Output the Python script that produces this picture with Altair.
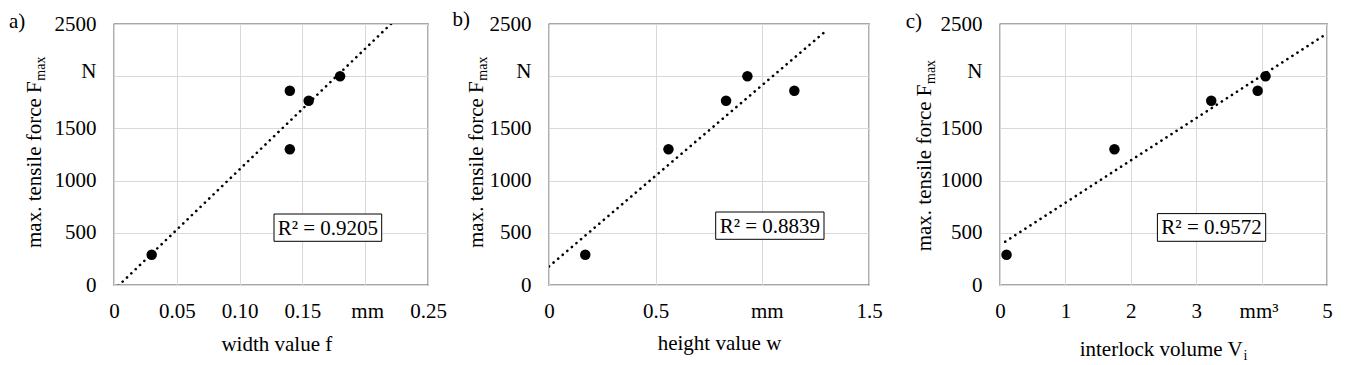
import altair as alt
import pandas as pd

FONT = "'Liberation Serif', 'Times New Roman', 'DejaVu Serif', serif"

# ---------------- data ----------------
force = [290, 1300, 1765, 1860, 2000]            # N
width_f = [0.03, 0.14, 0.155, 0.14, 0.18]         # mm
height_w = [0.17, 0.56, 0.83, 1.15, 0.93]         # mm
volume_v = [0.10, 1.75, 3.23, 3.94, 4.06]         # mm^3

y_ticks = [0, 500, 1000, 1500, 2000, 2500]
y_labels = ["0", "500", "1000", "1500", "N", "2500"]

xa_ticks = [0, 0.05, 0.10, 0.15, 0.20, 0.25]
xa_labels = ["0", "0.05", "0.10", "0.15", "mm", "0.25"]
xb_ticks = [0, 0.5, 1.0, 1.5]
xb_labels = ["0", "0.5", "mm", "1.5"]
xc_ticks = [0, 1, 2, 3, 4, 5]
xc_labels = ["0", "1", "2", "3", "mm³", "5"]

r2_labels = ["R² = 0.9205", "R² = 0.8839", "R² = 0.9572"]
panel_labels = ["a)", "b)", "c)"]
x_titles = [("width value f", ""), ("height value w", ""), ("interlock volume V", "i")]
y_title = ("max. tensile force F", "max")

# ---------------- styling / layout ----------------
FS = 21
SUB = 14
GRID = "#d9d9d9"
BORDER = "#505050"

# Times / Liberation Serif advance widths (em)
W = {'m': .778, 'a': .444, 'x': .5, '.': .25, ' ': .25, 't': .278, 'e': .444, 'n': .5,
     's': .389, 'i': .278, 'l': .278, 'f': .333, 'o': .5, 'r': .333, 'c': .444, 'F': .556,
     'k': .5, 'v': .5, 'u': .5, 'V': .722, 'w': .722, 'd': .5, 'h': .5, 'g': .5}


def text_len(s, size):
    return sum(W.get(ch, .5) for ch in s) * size


def label_expr(ticks, labels):
    s = "''"
    for v, l in reversed(list(zip(ticks, labels))):
        s = f"(abs(datum.value - {v}) < 1e-9 ? '{l}' : {s})"
    return s


ONE = pd.DataFrame({"k": [0]})


def txt(text, x, y, size=FS, angle=0, align="left"):
    return alt.Chart(ONE).mark_text(
        text=text, fontSize=size, angle=angle, align=align, baseline="alphabetic",
        font=FONT, color="black"
    ).encode(x=alt.value(x), y=alt.value(y))


def panel(i, xs, ticks, labels, xmax, extent, w, geo):
    df = pd.DataFrame({"x": xs, "F": force})
    mm_tick = ticks[labels.index([l for l in labels if l.startswith("mm")][0])]
    xenc = alt.X("x:Q", scale=alt.Scale(domain=[0, xmax], nice=False, zero=False),
                 axis=alt.Axis(values=ticks, labelExpr=label_expr(ticks, labels), title=None,
                               grid=True, ticks=False, tickSize=0, domain=False,
                               labelPadding=15, labelFlush=False, labelOverlap=False,
                               labelOffset={"condition": {"test": f"abs(datum.value - {mm_tick}) < 1e-9",
                                                          "value": geo["mm_dx"]},
                                            "value": 0}))
    yenc = alt.Y("F:Q", scale=alt.Scale(domain=[0, 2500], nice=False),
                 axis=alt.Axis(values=y_ticks, labelExpr=label_expr(y_ticks, y_labels), title=None,
                               grid=True, ticks=False, tickSize=0, domain=False,
                               labelPadding=18, labelFlush=False, labelOverlap=False,
                               labelOffset={"condition": {"test": "datum.value == 2000", "value": -5},
                                            "value": 0}))
    base = alt.Chart(df)
    pts = base.mark_circle(size=110, color="black", opacity=1).encode(x=xenc, y=yenc)
    trend = base.transform_regression("x", "F", extent=extent).mark_line(
        color="black", strokeWidth=2.6, strokeDash=[0.1, 5.9], strokeCap="round", clip=True
    ).encode(x=xenc, y=yenc)

    bx0, bx1, by0, by1 = geo["box"]
    box = alt.Chart(ONE).mark_rect(fill="white", stroke="black", strokeWidth=1).encode(
        x=alt.value(bx0), x2=alt.value(bx1), y=alt.value(by0), y2=alt.value(by1))
    r2 = txt(r2_labels[i], (bx0 + bx1) / 2, (by0 + by1) / 2 + 7, align="center")

    lab = txt(panel_labels[i], geo["label"][0], geo["label"][1])

    yx, yy = geo["ytitle"]
    main_len = text_len(y_title[0], FS)
    yt = txt(y_title[0], yx, yy, angle=270)
    ys = txt(y_title[1], yx + 4, yy - main_len - 0.5, size=SUB, angle=270)

    xt_x, xt_y = geo["xtitle"]
    xt = txt(x_titles[i][0], xt_x, xt_y)
    layers = [box, r2, lab, yt, ys, xt, pts, trend]
    if x_titles[i][1]:
        layers.append(txt(x_titles[i][1], xt_x + text_len(x_titles[i][0], FS) + 0.5, xt_y + 4, size=SUB))
    return alt.layer(*layers).properties(width=w, height=261)


geo_a = {"label": (-105, 4.3), "ytitle": (-73.3, 224), "xtitle": (107.4, 326.8),
         "box": (160, 267.7, 190, 217.3), "mm_dx": 2}
geo_b = {"label": (-96.6, 2.3), "ytitle": (-66.3, 224), "xtitle": (108.7, 325.6),
         "box": (166.7, 275, 188, 215.3), "mm_dx": 4.5}
geo_c = {"label": (-94.3, 4.3), "ytitle": (-69.3, 227.3), "xtitle": (79.7, 332.3),
         "box": (157.4, 265.7, 189.6, 217.3), "mm_dx": -3}

pa = panel(0, width_f, xa_ticks, xa_labels, 0.25, [0, 0.25], 314, geo_a)
pb = panel(1, height_w, xb_ticks, xb_labels, 1.5, [0, 1.3], 320, geo_b)
pc = panel(2, volume_v, xc_ticks, xc_labels, 5, [0.08, 5], 327, geo_c)

chart = alt.hconcat(
    pa,
    alt.hconcat(pb, pc, spacing=131, bounds="flush"),
    spacing=121, bounds="flush"
).properties(
    padding={"left": 0, "top": 0, "right": 0, "bottom": 0}
).configure_view(
    stroke=BORDER, strokeWidth=1.3
).configure_axis(
    labelFont=FONT, labelFontSize=FS, labelColor="black", gridColor=GRID, gridWidth=1
)

chart.save("out.html", embed_options={"renderer": "svg", "actions": False})
